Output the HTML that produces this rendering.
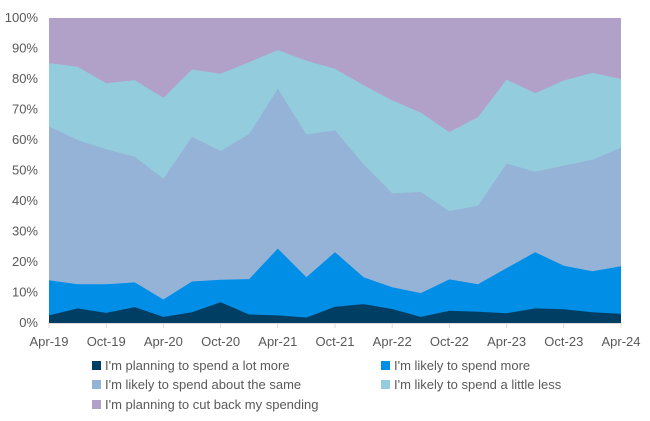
<!DOCTYPE html><html><head><style>body{margin:0;background:#fff}text{font-family:"Liberation Sans",sans-serif;fill:#595959;font-size:13px}</style></head><body>
<svg width="650" height="416" xmlns="http://www.w3.org/2000/svg">
<rect x="49" y="18" width="572" height="305" fill="#b1a0c7"/>
<polygon fill="#93cddd" points="49,323 49,63.1 77.6,66.8 106.2,83.3 134.8,80.2 163.4,97.9 192,69.5 220.6,73.8 249.2,62.2 277.8,50 306.4,60.7 335,68.9 363.6,85.1 392.2,100.4 420.8,112.6 449.4,132.1 478,117.1 506.6,79.6 535.2,93.3 563.8,80.5 592.4,72.9 621,79 621,323"/>
<polygon fill="#95b3d7" points="49,323 49,126.3 77.6,140 106.2,149.2 134.8,156.8 163.4,178.7 192,136.9 220.6,151 249.2,133.9 277.8,88.8 306.4,134.5 335,130.2 363.6,164.4 392.2,193.4 420.8,191.9 449.4,211.1 478,205.6 506.6,163.5 535.2,171.7 563.8,165.6 592.4,159.8 621,147.6 621,323"/>
<polygon fill="#008ee6" points="49,323 49,280.3 77.6,284.3 106.2,284.3 134.8,282.4 163.4,299.5 192,281.5 220.6,279.7 249.2,279.1 277.8,248.6 306.4,277.3 335,252.2 363.6,277.3 392.2,287.3 420.8,293.1 449.4,279.4 478,284.3 506.6,268.1 535.2,252.2 563.8,265.7 592.4,271.2 621,266.3 621,323"/>
<polygon fill="#003f63" points="49,323 49,315.4 77.6,308.4 106.2,312.9 134.8,307.1 163.4,316.9 192,312.3 220.6,302.3 249.2,314.5 277.8,315.4 306.4,317.5 335,306.8 363.6,304.1 392.2,309 420.8,316.9 449.4,310.8 478,311.7 506.6,313.2 535.2,308.4 563.8,309.3 592.4,312.3 621,313.9 621,323"/>
<line x1="49" y1="323.5" x2="621" y2="323.5" stroke="#d9d9d9"/>
<g stroke="#d9d9d9"><line x1="49" y1="323" x2="49" y2="328"/><line x1="106.2" y1="323" x2="106.2" y2="328"/><line x1="163.4" y1="323" x2="163.4" y2="328"/><line x1="220.6" y1="323" x2="220.6" y2="328"/><line x1="277.8" y1="323" x2="277.8" y2="328"/><line x1="335" y1="323" x2="335" y2="328"/><line x1="392.2" y1="323" x2="392.2" y2="328"/><line x1="449.4" y1="323" x2="449.4" y2="328"/><line x1="506.6" y1="323" x2="506.6" y2="328"/><line x1="563.8" y1="323" x2="563.8" y2="328"/><line x1="621" y1="323" x2="621" y2="328"/></g>
<g text-anchor="end"><text x="38" y="327">0%</text><text x="38" y="296.5">10%</text><text x="38" y="266">20%</text><text x="38" y="235.5">30%</text><text x="38" y="205">40%</text><text x="38" y="174.5">50%</text><text x="38" y="144">60%</text><text x="38" y="113.5">70%</text><text x="38" y="83">80%</text><text x="38" y="52.5">90%</text><text x="38" y="22">100%</text></g>
<g text-anchor="middle"><text x="49" y="346">Apr-19</text><text x="106.2" y="346">Oct-19</text><text x="163.4" y="346">Apr-20</text><text x="220.6" y="346">Oct-20</text><text x="277.8" y="346">Apr-21</text><text x="335" y="346">Oct-21</text><text x="392.2" y="346">Apr-22</text><text x="449.4" y="346">Oct-22</text><text x="506.6" y="346">Apr-23</text><text x="563.8" y="346">Oct-23</text><text x="621" y="346">Apr-24</text></g>
<rect x="92" y="361" width="9" height="9" fill="#003f63"/><text x="105" y="370">I'm planning to spend a lot more</text>
<rect x="381" y="361" width="9" height="9" fill="#008ee6"/><text x="394" y="370">I'm likely to spend more</text>
<rect x="92" y="380" width="9" height="9" fill="#95b3d7"/><text x="105" y="389">I'm likely to spend about the same</text>
<rect x="381" y="380" width="9" height="9" fill="#93cddd"/><text x="394" y="389">I'm likely to spend a little less</text>
<rect x="92" y="400" width="9" height="9" fill="#b1a0c7"/><text x="105" y="409">I'm planning to cut back my spending</text>
</svg></body></html>
